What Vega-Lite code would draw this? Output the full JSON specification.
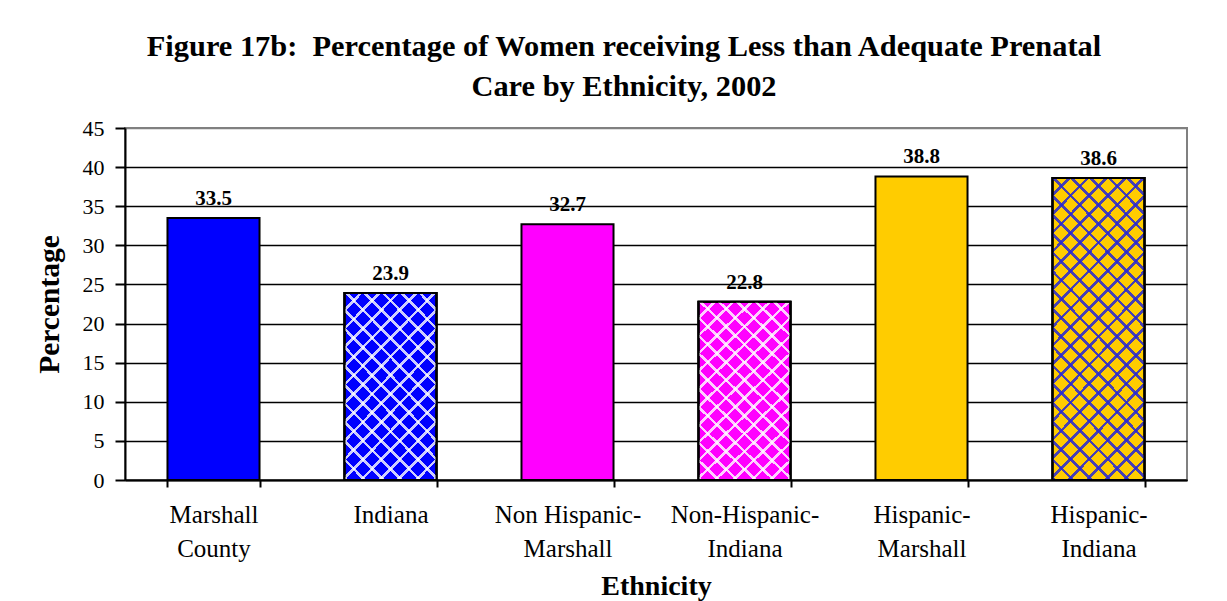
{
  "$schema": "https://vega.github.io/schema/vega-lite/v6.json",
  "autosize": {"type": "none"},
  "width": 1062,
  "height": 352,
  "padding": {"left": 125, "top": 128, "right": 40, "bottom": 121},
  "background": "white",
  "config": {
    "font": "Liberation Serif",
    "view": {"stroke": "#808080", "strokeWidth": 2}
  },
  "title": {
    "text": ["Figure 17b: \u00a0Percentage of Women receiving Less than Adequate Prenatal", "Care by Ethnicity, 2002"],
    "font": "Liberation Serif",
    "fontSize": 30.4,
    "fontWeight": "bold",
    "color": "black",
    "anchor": "middle",
    "frame": "group",
    "dx": -32,
    "offset": 15,
    "lineHeight": 40
  },
  "data": {
    "values": [
      {"group": "Marshall County", "pct": 33.5},
      {"group": "Indiana", "pct": 23.9},
      {"group": "Non Hispanic-Marshall", "pct": 32.7},
      {"group": "Non-Hispanic-Indiana", "pct": 22.8},
      {"group": "Hispanic-Marshall", "pct": 38.8},
      {"group": "Hispanic-Indiana", "pct": 38.6}
    ]
  },
  "encoding": {
    "x": {
      "field": "group",
      "type": "nominal",
      "sort": null,
      "scale": {"paddingInner": 0.48, "paddingOuter": 0.24},
      "axis": {
        "title": "Ethnicity",
        "titleFont": "Liberation Serif",
        "titleFontSize": 28,
        "titleFontWeight": "bold",
        "titleColor": "black",
        "titlePadding": 11,
        "labelAngle": 0,
        "labelFont": "Liberation Serif",
        "labelFontSize": 25,
        "labelColor": "black",
        "labelLineHeight": 34,
        "labelPadding": 15,
        "labelBaseline": "top",
        "labelExpr": "datum.value == null ? '' : datum.value == 'Marshall County' ? ['Marshall','County'] : datum.value == 'Indiana' ? ['Indiana'] : datum.value == 'Non Hispanic-Marshall' ? ['Non Hispanic-','Marshall'] : datum.value == 'Non-Hispanic-Indiana' ? ['Non-Hispanic-','Indiana'] : datum.value == 'Hispanic-Marshall' ? ['Hispanic-','Marshall'] : datum.value == 'Hispanic-Indiana' ? ['Hispanic-','Indiana'] : ''",
        "tickBand": "extent",
        "tickSize": 7,
        "tickColor": "black",
        "tickWidth": 2,
        "domainColor": "black",
        "domainWidth": 2,
        "grid": false
      }
    },
    "y": {
      "field": "pct",
      "type": "quantitative",
      "scale": {"domain": [0, 45], "nice": false},
      "axis": {
        "title": "Percentage",
        "titleFont": "Liberation Serif",
        "titleFontSize": 29.5,
        "titleFontWeight": "bold",
        "titleColor": "black",
        "titlePadding": 18,
        "values": [0, 5, 10, 15, 20, 25, 30, 35, 40, 45],
        "labelFont": "Liberation Serif",
        "labelFontSize": 22,
        "labelColor": "black",
        "labelPadding": 11,
        "tickSize": 10,
        "tickColor": "black",
        "tickWidth": 2,
        "domainColor": "black",
        "domainWidth": 2,
        "grid": true,
        "gridColor": {"condition": {"test": "datum.value == 45", "value": "#808080"}, "value": "black"},
        "gridWidth": 1.5,
        "gridOpacity": 1
      }
    }
  },
  "layer": [
    {
      "mark": {"type": "bar", "stroke": "black", "strokeWidth": 2},
      "encoding": {
        "color": {
          "field": "group",
          "type": "nominal",
          "scale": {
            "domain": ["Marshall County", "Indiana", "Non Hispanic-Marshall", "Non-Hispanic-Indiana", "Hispanic-Marshall", "Hispanic-Indiana"],
            "range": ["#0000ff", "#0000ff", "#ff00ff", "#ff00ff", "#ffcc00", "#ffcc00"]
          },
          "legend": null
        }
      }
    },
    {
      "transform": [{"filter": "datum.group == 'Indiana' || datum.group == 'Non-Hispanic-Indiana'"}],
      "mark": {
        "type": "bar", "stroke": "black", "strokeWidth": 2,
        "fill": {
          "gradient": "linear", "x1": 0, "y1": 0, "x2": 0.6, "y2": 1.2,
          "stops": [
            {"offset": 0.0533, "color": "rgba(255,255,255,0)"}, {"offset": 0.0533, "color": "rgba(255,255,255,0.8)"}, {"offset": 0.0667, "color": "rgba(255,255,255,0.8)"}, {"offset": 0.0667, "color": "rgba(255,255,255,0)"},
            {"offset": 0.12, "color": "rgba(255,255,255,0)"}, {"offset": 0.12, "color": "rgba(255,255,255,0.8)"}, {"offset": 0.1333, "color": "rgba(255,255,255,0.8)"}, {"offset": 0.1333, "color": "rgba(255,255,255,0)"},
            {"offset": 0.1867, "color": "rgba(255,255,255,0)"}, {"offset": 0.1867, "color": "rgba(255,255,255,0.8)"}, {"offset": 0.2, "color": "rgba(255,255,255,0.8)"}, {"offset": 0.2, "color": "rgba(255,255,255,0)"},
            {"offset": 0.2533, "color": "rgba(255,255,255,0)"}, {"offset": 0.2533, "color": "rgba(255,255,255,0.8)"}, {"offset": 0.2667, "color": "rgba(255,255,255,0.8)"}, {"offset": 0.2667, "color": "rgba(255,255,255,0)"},
            {"offset": 0.32, "color": "rgba(255,255,255,0)"}, {"offset": 0.32, "color": "rgba(255,255,255,0.8)"}, {"offset": 0.3333, "color": "rgba(255,255,255,0.8)"}, {"offset": 0.3333, "color": "rgba(255,255,255,0)"},
            {"offset": 0.3867, "color": "rgba(255,255,255,0)"}, {"offset": 0.3867, "color": "rgba(255,255,255,0.8)"}, {"offset": 0.4, "color": "rgba(255,255,255,0.8)"}, {"offset": 0.4, "color": "rgba(255,255,255,0)"},
            {"offset": 0.4533, "color": "rgba(255,255,255,0)"}, {"offset": 0.4533, "color": "rgba(255,255,255,0.8)"}, {"offset": 0.4667, "color": "rgba(255,255,255,0.8)"}, {"offset": 0.4667, "color": "rgba(255,255,255,0)"},
            {"offset": 0.52, "color": "rgba(255,255,255,0)"}, {"offset": 0.52, "color": "rgba(255,255,255,0.8)"}, {"offset": 0.5333, "color": "rgba(255,255,255,0.8)"}, {"offset": 0.5333, "color": "rgba(255,255,255,0)"},
            {"offset": 0.5867, "color": "rgba(255,255,255,0)"}, {"offset": 0.5867, "color": "rgba(255,255,255,0.8)"}, {"offset": 0.6, "color": "rgba(255,255,255,0.8)"}, {"offset": 0.6, "color": "rgba(255,255,255,0)"},
            {"offset": 0.6533, "color": "rgba(255,255,255,0)"}, {"offset": 0.6533, "color": "rgba(255,255,255,0.8)"}, {"offset": 0.6667, "color": "rgba(255,255,255,0.8)"}, {"offset": 0.6667, "color": "rgba(255,255,255,0)"},
            {"offset": 0.72, "color": "rgba(255,255,255,0)"}, {"offset": 0.72, "color": "rgba(255,255,255,0.8)"}, {"offset": 0.7333, "color": "rgba(255,255,255,0.8)"}, {"offset": 0.7333, "color": "rgba(255,255,255,0)"},
            {"offset": 0.7867, "color": "rgba(255,255,255,0)"}, {"offset": 0.7867, "color": "rgba(255,255,255,0.8)"}, {"offset": 0.8, "color": "rgba(255,255,255,0.8)"}, {"offset": 0.8, "color": "rgba(255,255,255,0)"},
            {"offset": 0.8533, "color": "rgba(255,255,255,0)"}, {"offset": 0.8533, "color": "rgba(255,255,255,0.8)"}, {"offset": 0.8667, "color": "rgba(255,255,255,0.8)"}, {"offset": 0.8667, "color": "rgba(255,255,255,0)"},
            {"offset": 0.92, "color": "rgba(255,255,255,0)"}, {"offset": 0.92, "color": "rgba(255,255,255,0.8)"}, {"offset": 0.9333, "color": "rgba(255,255,255,0.8)"}, {"offset": 0.9333, "color": "rgba(255,255,255,0)"},
            {"offset": 0.9867, "color": "rgba(255,255,255,0)"}, {"offset": 0.9867, "color": "rgba(255,255,255,0.8)"}, {"offset": 1, "color": "rgba(255,255,255,0.8)"}
          ]
        }
      }
    },
    {
      "transform": [{"filter": "datum.group == 'Indiana' || datum.group == 'Non-Hispanic-Indiana'"}],
      "mark": {
        "type": "bar", "stroke": "black", "strokeWidth": 2,
        "fill": {
          "gradient": "linear", "x1": 1, "y1": 0, "x2": 0.4, "y2": 1.2,
          "stops": [
            {"offset": 0.0533, "color": "rgba(255,255,255,0)"}, {"offset": 0.0533, "color": "rgba(255,255,255,0.8)"}, {"offset": 0.0667, "color": "rgba(255,255,255,0.8)"}, {"offset": 0.0667, "color": "rgba(255,255,255,0)"},
            {"offset": 0.12, "color": "rgba(255,255,255,0)"}, {"offset": 0.12, "color": "rgba(255,255,255,0.8)"}, {"offset": 0.1333, "color": "rgba(255,255,255,0.8)"}, {"offset": 0.1333, "color": "rgba(255,255,255,0)"},
            {"offset": 0.1867, "color": "rgba(255,255,255,0)"}, {"offset": 0.1867, "color": "rgba(255,255,255,0.8)"}, {"offset": 0.2, "color": "rgba(255,255,255,0.8)"}, {"offset": 0.2, "color": "rgba(255,255,255,0)"},
            {"offset": 0.2533, "color": "rgba(255,255,255,0)"}, {"offset": 0.2533, "color": "rgba(255,255,255,0.8)"}, {"offset": 0.2667, "color": "rgba(255,255,255,0.8)"}, {"offset": 0.2667, "color": "rgba(255,255,255,0)"},
            {"offset": 0.32, "color": "rgba(255,255,255,0)"}, {"offset": 0.32, "color": "rgba(255,255,255,0.8)"}, {"offset": 0.3333, "color": "rgba(255,255,255,0.8)"}, {"offset": 0.3333, "color": "rgba(255,255,255,0)"},
            {"offset": 0.3867, "color": "rgba(255,255,255,0)"}, {"offset": 0.3867, "color": "rgba(255,255,255,0.8)"}, {"offset": 0.4, "color": "rgba(255,255,255,0.8)"}, {"offset": 0.4, "color": "rgba(255,255,255,0)"},
            {"offset": 0.4533, "color": "rgba(255,255,255,0)"}, {"offset": 0.4533, "color": "rgba(255,255,255,0.8)"}, {"offset": 0.4667, "color": "rgba(255,255,255,0.8)"}, {"offset": 0.4667, "color": "rgba(255,255,255,0)"},
            {"offset": 0.52, "color": "rgba(255,255,255,0)"}, {"offset": 0.52, "color": "rgba(255,255,255,0.8)"}, {"offset": 0.5333, "color": "rgba(255,255,255,0.8)"}, {"offset": 0.5333, "color": "rgba(255,255,255,0)"},
            {"offset": 0.5867, "color": "rgba(255,255,255,0)"}, {"offset": 0.5867, "color": "rgba(255,255,255,0.8)"}, {"offset": 0.6, "color": "rgba(255,255,255,0.8)"}, {"offset": 0.6, "color": "rgba(255,255,255,0)"},
            {"offset": 0.6533, "color": "rgba(255,255,255,0)"}, {"offset": 0.6533, "color": "rgba(255,255,255,0.8)"}, {"offset": 0.6667, "color": "rgba(255,255,255,0.8)"}, {"offset": 0.6667, "color": "rgba(255,255,255,0)"},
            {"offset": 0.72, "color": "rgba(255,255,255,0)"}, {"offset": 0.72, "color": "rgba(255,255,255,0.8)"}, {"offset": 0.7333, "color": "rgba(255,255,255,0.8)"}, {"offset": 0.7333, "color": "rgba(255,255,255,0)"},
            {"offset": 0.7867, "color": "rgba(255,255,255,0)"}, {"offset": 0.7867, "color": "rgba(255,255,255,0.8)"}, {"offset": 0.8, "color": "rgba(255,255,255,0.8)"}, {"offset": 0.8, "color": "rgba(255,255,255,0)"},
            {"offset": 0.8533, "color": "rgba(255,255,255,0)"}, {"offset": 0.8533, "color": "rgba(255,255,255,0.8)"}, {"offset": 0.8667, "color": "rgba(255,255,255,0.8)"}, {"offset": 0.8667, "color": "rgba(255,255,255,0)"},
            {"offset": 0.92, "color": "rgba(255,255,255,0)"}, {"offset": 0.92, "color": "rgba(255,255,255,0.8)"}, {"offset": 0.9333, "color": "rgba(255,255,255,0.8)"}, {"offset": 0.9333, "color": "rgba(255,255,255,0)"},
            {"offset": 0.9867, "color": "rgba(255,255,255,0)"}, {"offset": 0.9867, "color": "rgba(255,255,255,0.8)"}, {"offset": 1, "color": "rgba(255,255,255,0.8)"}
          ]
        }
      }
    },
    {
      "transform": [{"filter": "datum.group == 'Hispanic-Indiana'"}],
      "mark": {
        "type": "bar", "stroke": "black", "strokeWidth": 2,
        "fill": {
          "gradient": "linear", "x1": 0, "y1": 0, "x2": 0.368, "y2": 1.195,
          "stops": [
            {"offset": 0.0381, "color": "rgba(40,40,210,0)"}, {"offset": 0.0381, "color": "rgba(40,40,210,0.85)"}, {"offset": 0.0476, "color": "rgba(40,40,210,0.85)"}, {"offset": 0.0476, "color": "rgba(40,40,210,0)"},
            {"offset": 0.0857, "color": "rgba(40,40,210,0)"}, {"offset": 0.0857, "color": "rgba(40,40,210,0.85)"}, {"offset": 0.0952, "color": "rgba(40,40,210,0.85)"}, {"offset": 0.0952, "color": "rgba(40,40,210,0)"},
            {"offset": 0.1333, "color": "rgba(40,40,210,0)"}, {"offset": 0.1333, "color": "rgba(40,40,210,0.85)"}, {"offset": 0.1429, "color": "rgba(40,40,210,0.85)"}, {"offset": 0.1429, "color": "rgba(40,40,210,0)"},
            {"offset": 0.181, "color": "rgba(40,40,210,0)"}, {"offset": 0.181, "color": "rgba(40,40,210,0.85)"}, {"offset": 0.1905, "color": "rgba(40,40,210,0.85)"}, {"offset": 0.1905, "color": "rgba(40,40,210,0)"},
            {"offset": 0.2286, "color": "rgba(40,40,210,0)"}, {"offset": 0.2286, "color": "rgba(40,40,210,0.85)"}, {"offset": 0.2381, "color": "rgba(40,40,210,0.85)"}, {"offset": 0.2381, "color": "rgba(40,40,210,0)"},
            {"offset": 0.2762, "color": "rgba(40,40,210,0)"}, {"offset": 0.2762, "color": "rgba(40,40,210,0.85)"}, {"offset": 0.2857, "color": "rgba(40,40,210,0.85)"}, {"offset": 0.2857, "color": "rgba(40,40,210,0)"},
            {"offset": 0.3238, "color": "rgba(40,40,210,0)"}, {"offset": 0.3238, "color": "rgba(40,40,210,0.85)"}, {"offset": 0.3333, "color": "rgba(40,40,210,0.85)"}, {"offset": 0.3333, "color": "rgba(40,40,210,0)"},
            {"offset": 0.3714, "color": "rgba(40,40,210,0)"}, {"offset": 0.3714, "color": "rgba(40,40,210,0.85)"}, {"offset": 0.381, "color": "rgba(40,40,210,0.85)"}, {"offset": 0.381, "color": "rgba(40,40,210,0)"},
            {"offset": 0.419, "color": "rgba(40,40,210,0)"}, {"offset": 0.419, "color": "rgba(40,40,210,0.85)"}, {"offset": 0.4286, "color": "rgba(40,40,210,0.85)"}, {"offset": 0.4286, "color": "rgba(40,40,210,0)"},
            {"offset": 0.4667, "color": "rgba(40,40,210,0)"}, {"offset": 0.4667, "color": "rgba(40,40,210,0.85)"}, {"offset": 0.4762, "color": "rgba(40,40,210,0.85)"}, {"offset": 0.4762, "color": "rgba(40,40,210,0)"},
            {"offset": 0.5143, "color": "rgba(40,40,210,0)"}, {"offset": 0.5143, "color": "rgba(40,40,210,0.85)"}, {"offset": 0.5238, "color": "rgba(40,40,210,0.85)"}, {"offset": 0.5238, "color": "rgba(40,40,210,0)"},
            {"offset": 0.5619, "color": "rgba(40,40,210,0)"}, {"offset": 0.5619, "color": "rgba(40,40,210,0.85)"}, {"offset": 0.5714, "color": "rgba(40,40,210,0.85)"}, {"offset": 0.5714, "color": "rgba(40,40,210,0)"},
            {"offset": 0.6095, "color": "rgba(40,40,210,0)"}, {"offset": 0.6095, "color": "rgba(40,40,210,0.85)"}, {"offset": 0.619, "color": "rgba(40,40,210,0.85)"}, {"offset": 0.619, "color": "rgba(40,40,210,0)"},
            {"offset": 0.6571, "color": "rgba(40,40,210,0)"}, {"offset": 0.6571, "color": "rgba(40,40,210,0.85)"}, {"offset": 0.6667, "color": "rgba(40,40,210,0.85)"}, {"offset": 0.6667, "color": "rgba(40,40,210,0)"},
            {"offset": 0.7048, "color": "rgba(40,40,210,0)"}, {"offset": 0.7048, "color": "rgba(40,40,210,0.85)"}, {"offset": 0.7143, "color": "rgba(40,40,210,0.85)"}, {"offset": 0.7143, "color": "rgba(40,40,210,0)"},
            {"offset": 0.7524, "color": "rgba(40,40,210,0)"}, {"offset": 0.7524, "color": "rgba(40,40,210,0.85)"}, {"offset": 0.7619, "color": "rgba(40,40,210,0.85)"}, {"offset": 0.7619, "color": "rgba(40,40,210,0)"},
            {"offset": 0.8, "color": "rgba(40,40,210,0)"}, {"offset": 0.8, "color": "rgba(40,40,210,0.85)"}, {"offset": 0.8095, "color": "rgba(40,40,210,0.85)"}, {"offset": 0.8095, "color": "rgba(40,40,210,0)"},
            {"offset": 0.8476, "color": "rgba(40,40,210,0)"}, {"offset": 0.8476, "color": "rgba(40,40,210,0.85)"}, {"offset": 0.8571, "color": "rgba(40,40,210,0.85)"}, {"offset": 0.8571, "color": "rgba(40,40,210,0)"},
            {"offset": 0.8952, "color": "rgba(40,40,210,0)"}, {"offset": 0.8952, "color": "rgba(40,40,210,0.85)"}, {"offset": 0.9048, "color": "rgba(40,40,210,0.85)"}, {"offset": 0.9048, "color": "rgba(40,40,210,0)"},
            {"offset": 0.9429, "color": "rgba(40,40,210,0)"}, {"offset": 0.9429, "color": "rgba(40,40,210,0.85)"}, {"offset": 0.9524, "color": "rgba(40,40,210,0.85)"}, {"offset": 0.9524, "color": "rgba(40,40,210,0)"},
            {"offset": 0.9905, "color": "rgba(40,40,210,0)"}, {"offset": 0.9905, "color": "rgba(40,40,210,0.85)"}, {"offset": 1, "color": "rgba(40,40,210,0.85)"}
          ]
        }
      }
    },
    {
      "transform": [{"filter": "datum.group == 'Hispanic-Indiana'"}],
      "mark": {
        "type": "bar", "stroke": "black", "strokeWidth": 2,
        "fill": {
          "gradient": "linear", "x1": 1, "y1": 0, "x2": 0.632, "y2": 1.195,
          "stops": [
            {"offset": 0.0381, "color": "rgba(40,40,210,0)"}, {"offset": 0.0381, "color": "rgba(40,40,210,0.85)"}, {"offset": 0.0476, "color": "rgba(40,40,210,0.85)"}, {"offset": 0.0476, "color": "rgba(40,40,210,0)"},
            {"offset": 0.0857, "color": "rgba(40,40,210,0)"}, {"offset": 0.0857, "color": "rgba(40,40,210,0.85)"}, {"offset": 0.0952, "color": "rgba(40,40,210,0.85)"}, {"offset": 0.0952, "color": "rgba(40,40,210,0)"},
            {"offset": 0.1333, "color": "rgba(40,40,210,0)"}, {"offset": 0.1333, "color": "rgba(40,40,210,0.85)"}, {"offset": 0.1429, "color": "rgba(40,40,210,0.85)"}, {"offset": 0.1429, "color": "rgba(40,40,210,0)"},
            {"offset": 0.181, "color": "rgba(40,40,210,0)"}, {"offset": 0.181, "color": "rgba(40,40,210,0.85)"}, {"offset": 0.1905, "color": "rgba(40,40,210,0.85)"}, {"offset": 0.1905, "color": "rgba(40,40,210,0)"},
            {"offset": 0.2286, "color": "rgba(40,40,210,0)"}, {"offset": 0.2286, "color": "rgba(40,40,210,0.85)"}, {"offset": 0.2381, "color": "rgba(40,40,210,0.85)"}, {"offset": 0.2381, "color": "rgba(40,40,210,0)"},
            {"offset": 0.2762, "color": "rgba(40,40,210,0)"}, {"offset": 0.2762, "color": "rgba(40,40,210,0.85)"}, {"offset": 0.2857, "color": "rgba(40,40,210,0.85)"}, {"offset": 0.2857, "color": "rgba(40,40,210,0)"},
            {"offset": 0.3238, "color": "rgba(40,40,210,0)"}, {"offset": 0.3238, "color": "rgba(40,40,210,0.85)"}, {"offset": 0.3333, "color": "rgba(40,40,210,0.85)"}, {"offset": 0.3333, "color": "rgba(40,40,210,0)"},
            {"offset": 0.3714, "color": "rgba(40,40,210,0)"}, {"offset": 0.3714, "color": "rgba(40,40,210,0.85)"}, {"offset": 0.381, "color": "rgba(40,40,210,0.85)"}, {"offset": 0.381, "color": "rgba(40,40,210,0)"},
            {"offset": 0.419, "color": "rgba(40,40,210,0)"}, {"offset": 0.419, "color": "rgba(40,40,210,0.85)"}, {"offset": 0.4286, "color": "rgba(40,40,210,0.85)"}, {"offset": 0.4286, "color": "rgba(40,40,210,0)"},
            {"offset": 0.4667, "color": "rgba(40,40,210,0)"}, {"offset": 0.4667, "color": "rgba(40,40,210,0.85)"}, {"offset": 0.4762, "color": "rgba(40,40,210,0.85)"}, {"offset": 0.4762, "color": "rgba(40,40,210,0)"},
            {"offset": 0.5143, "color": "rgba(40,40,210,0)"}, {"offset": 0.5143, "color": "rgba(40,40,210,0.85)"}, {"offset": 0.5238, "color": "rgba(40,40,210,0.85)"}, {"offset": 0.5238, "color": "rgba(40,40,210,0)"},
            {"offset": 0.5619, "color": "rgba(40,40,210,0)"}, {"offset": 0.5619, "color": "rgba(40,40,210,0.85)"}, {"offset": 0.5714, "color": "rgba(40,40,210,0.85)"}, {"offset": 0.5714, "color": "rgba(40,40,210,0)"},
            {"offset": 0.6095, "color": "rgba(40,40,210,0)"}, {"offset": 0.6095, "color": "rgba(40,40,210,0.85)"}, {"offset": 0.619, "color": "rgba(40,40,210,0.85)"}, {"offset": 0.619, "color": "rgba(40,40,210,0)"},
            {"offset": 0.6571, "color": "rgba(40,40,210,0)"}, {"offset": 0.6571, "color": "rgba(40,40,210,0.85)"}, {"offset": 0.6667, "color": "rgba(40,40,210,0.85)"}, {"offset": 0.6667, "color": "rgba(40,40,210,0)"},
            {"offset": 0.7048, "color": "rgba(40,40,210,0)"}, {"offset": 0.7048, "color": "rgba(40,40,210,0.85)"}, {"offset": 0.7143, "color": "rgba(40,40,210,0.85)"}, {"offset": 0.7143, "color": "rgba(40,40,210,0)"},
            {"offset": 0.7524, "color": "rgba(40,40,210,0)"}, {"offset": 0.7524, "color": "rgba(40,40,210,0.85)"}, {"offset": 0.7619, "color": "rgba(40,40,210,0.85)"}, {"offset": 0.7619, "color": "rgba(40,40,210,0)"},
            {"offset": 0.8, "color": "rgba(40,40,210,0)"}, {"offset": 0.8, "color": "rgba(40,40,210,0.85)"}, {"offset": 0.8095, "color": "rgba(40,40,210,0.85)"}, {"offset": 0.8095, "color": "rgba(40,40,210,0)"},
            {"offset": 0.8476, "color": "rgba(40,40,210,0)"}, {"offset": 0.8476, "color": "rgba(40,40,210,0.85)"}, {"offset": 0.8571, "color": "rgba(40,40,210,0.85)"}, {"offset": 0.8571, "color": "rgba(40,40,210,0)"},
            {"offset": 0.8952, "color": "rgba(40,40,210,0)"}, {"offset": 0.8952, "color": "rgba(40,40,210,0.85)"}, {"offset": 0.9048, "color": "rgba(40,40,210,0.85)"}, {"offset": 0.9048, "color": "rgba(40,40,210,0)"},
            {"offset": 0.9429, "color": "rgba(40,40,210,0)"}, {"offset": 0.9429, "color": "rgba(40,40,210,0.85)"}, {"offset": 0.9524, "color": "rgba(40,40,210,0.85)"}, {"offset": 0.9524, "color": "rgba(40,40,210,0)"},
            {"offset": 0.9905, "color": "rgba(40,40,210,0)"}, {"offset": 0.9905, "color": "rgba(40,40,210,0.85)"}, {"offset": 1, "color": "rgba(40,40,210,0.85)"}
          ]
        }
      }
    },
    {
      "mark": {"type": "text", "font": "Liberation Serif", "fontSize": 21, "fontWeight": "bold", "color": "black", "baseline": "alphabetic", "dy": -13},
      "encoding": {
        "text": {"field": "pct", "type": "quantitative", "format": ".1f"}
      }
    }
  ]
}
